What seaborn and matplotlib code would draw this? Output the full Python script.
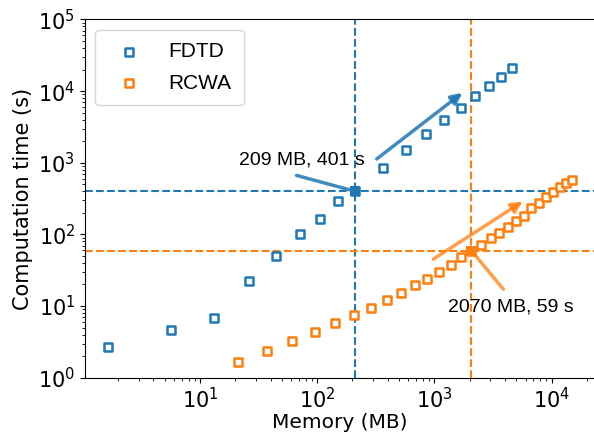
import matplotlib
matplotlib.use("Agg")
import matplotlib.pyplot as plt
import seaborn as sns

# values
fdtd_mem = [1.65, 5.66, 13.3, 26.1, 44.8, 70.9, 106, 152, 209, 362, 573, 853,
            1214, 1687, 2234, 2904, 3680, 4624]
fdtd_time = [2.66, 4.64, 6.90, 22.3, 50.7, 101, 164, 295, 401, 845, 1524, 2494,
             4000, 5833, 8475, 11700, 15970, 21330]

rcwa_mem = [21.0, 37.1, 61.4, 95.8, 143, 205, 286, 391, 516, 683, 869, 1094,
            1377, 1697, 2070, 2500, 3023, 3583, 4250, 4970, 5820, 6716, 7815,
            8963, 10220, 11720, 13190, 14920]
rcwa_time = [1.67, 2.39, 3.23, 4.31, 5.72, 7.48, 9.42, 12.1, 15.4, 19.6, 24.2,
             30.0, 37.6, 48.7, 59, 72.3, 87.7, 105, 127, 152, 182, 233, 277,
             328, 393, 459, 515, 580]

fdtd_mark = (209, 401)
rcwa_mark = (2070, 59)

blue = "#1f77b4"
orange = "#ff7f0e"

fig = plt.figure(figsize=(5.94, 4.32), dpi=100)
ax = fig.add_axes([0.1431, 0.1257, 0.8589, 0.8292])

# hollow square markers
sns.scatterplot(x=fdtd_mem, y=fdtd_time, marker="s", s=32, color="white",
                edgecolor=blue, linewidth=1.8, label="FDTD", ax=ax, zorder=3)
sns.scatterplot(x=rcwa_mem, y=rcwa_time, marker="s", s=32, color="white",
                edgecolor=orange, linewidth=1.8, label="RCWA", ax=ax, zorder=3)

ax.set_xscale("log")
ax.set_yscale("log")
ax.set_ylim(1, 1e5)

# reference lines through the highlighted points
ax.axvline(fdtd_mark[0], color=blue, ls="--", lw=1.5, zorder=1)
ax.axhline(fdtd_mark[1], color=blue, ls="--", lw=1.5, zorder=1)
ax.axvline(rcwa_mark[0], color=orange, ls="--", lw=1.5, zorder=1)
ax.axhline(rcwa_mark[1], color=orange, ls="--", lw=1.5, zorder=1)

# filled highlighted points
sns.scatterplot(x=[fdtd_mark[0]], y=[fdtd_mark[1]], marker="s", s=45,
                color=blue, linewidth=0, ax=ax, zorder=4, legend=False)
sns.scatterplot(x=[rcwa_mark[0]], y=[rcwa_mark[1]], marker="s", s=45,
                color=orange, linewidth=0, ax=ax, zorder=4, legend=False)

# labels with leader lines
ax.text(74.1, 1080, "209 MB, 401 s", family="Liberation Sans", fontsize=14,
        ha="center", va="center")
ax.annotate("", xy=fdtd_mark, xytext=(66.8, 666),
            arrowprops=dict(arrowstyle="-", color=blue, lw=2.5, alpha=0.85,
                            shrinkA=0, shrinkB=0))
ax.text(4447, 9.73, "2070 MB, 59 s", family="Liberation Sans", fontsize=14,
        ha="center", va="center")
ax.annotate("", xy=rcwa_mark, xytext=(3873, 17.2),
            arrowprops=dict(arrowstyle="-", color=orange, lw=2.5, alpha=0.75,
                            shrinkA=0, shrinkB=0))

# trend arrows
ax.annotate("", xy=(1730, 9450), xytext=(322, 1130),
            arrowprops=dict(arrowstyle="-|>", color=blue, lw=2.5, alpha=0.85,
                            mutation_scale=16, shrinkA=0, shrinkB=0))
ax.annotate("", xy=(5664, 288), xytext=(980, 45.2),
            arrowprops=dict(arrowstyle="-|>", color=orange, lw=2.5, alpha=0.75,
                            mutation_scale=16, shrinkA=0, shrinkB=0))

ax.set_xlabel("Memory (MB)", fontsize=14.5, labelpad=0)
ax.set_ylabel("Computation time (s)", fontsize=15)
ax.tick_params(axis="both", which="major", labelsize=15)

leg = ax.legend(loc="upper left", prop={"family": "Liberation Sans", "size": 15},
                handletextpad=0.9, borderpad=0.6, labelspacing=0.6)

fig.savefig("out.png", dpi=100)
